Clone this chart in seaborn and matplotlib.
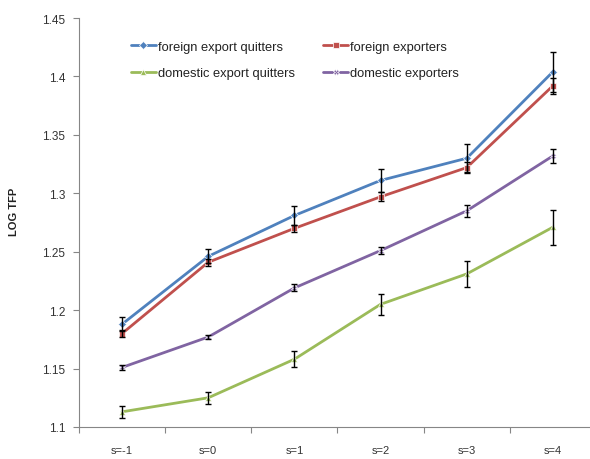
import matplotlib
matplotlib.use("Agg")
import matplotlib.pyplot as plt
from matplotlib.ticker import FuncFormatter, FixedLocator
import numpy as np
import pandas as pd
import seaborn as sns

periods = ["s=-1", "s=0", "s=1", "s=2", "s=3", "s=4"]

foreign_quitters = [1.188, 1.246, 1.281, 1.311, 1.330, 1.404]
foreign_quitters_err = [0.006, 0.006, 0.008, 0.010, 0.012, 0.017]

foreign_exporters = [1.180, 1.241, 1.270, 1.297, 1.322, 1.392]
foreign_exporters_err = [0.003, 0.003, 0.003, 0.004, 0.005, 0.007]

domestic_quitters = [1.113, 1.125, 1.158, 1.205, 1.231, 1.271]
domestic_quitters_err = [0.005, 0.005, 0.007, 0.009, 0.011, 0.015]

domestic_exporters = [1.151, 1.177, 1.219, 1.251, 1.285, 1.332]
domestic_exporters_err = [0.002, 0.002, 0.003, 0.003, 0.005, 0.006]

series = {
    "foreign export quitters": (foreign_quitters, foreign_quitters_err),
    "foreign exporters": (foreign_exporters, foreign_exporters_err),
    "domestic export quitters": (domestic_quitters, domestic_quitters_err),
    "domestic exporters": (domestic_exporters, domestic_exporters_err),
}
colors = {
    "foreign export quitters": "#4F81BD",
    "foreign exporters": "#C0504D",
    "domestic export quitters": "#9BBB59",
    "domestic exporters": "#8064A2",
}
markers = {
    "foreign export quitters": "D",
    "foreign exporters": "s",
    "domestic export quitters": "^",
    "domestic exporters": "X",
}

rows = []
for name, (vals, errs) in series.items():
    for i, (p, v, e) in enumerate(zip(periods, vals, errs)):
        rows.append({"pos": i, "period": p, "group": name, "tfp": v, "err": e})
df = pd.DataFrame(rows)

sns.set_style("white")
plt.rcParams["font.family"] = ["Liberation Sans", "DejaVu Sans"]

fig = plt.figure(figsize=(5.9, 4.6), dpi=100)
ax = fig.add_axes([79 / 590, 1 - 428 / 460, (596 - 79) / 590, (428 - 19) / 460])

sns.lineplot(data=df, x="pos", y="tfp", hue="group", style="group",
             hue_order=list(series), style_order=list(series),
             palette=colors, markers=markers, dashes=False,
             linewidth=2.0, markersize=4.2, markeredgewidth=0.5,
             ax=ax, legend=True)

for name in series:
    sub = df[df["group"] == name]
    ax.errorbar(sub["pos"], sub["tfp"], yerr=sub["err"], fmt="none",
                ecolor="black", elinewidth=1.0, capsize=2.5, capthick=1.0,
                zorder=5)

ax.set_xlim(-0.5, 5.5)
ax.set_ylim(1.1, 1.45)
ax.set_xticks(range(len(periods)))
ax.set_xticklabels(periods)
ax.xaxis.set_minor_locator(FixedLocator(np.arange(-0.5, 5.6, 1.0)))
ax.tick_params(axis="x", which="both", bottom=True)
ax.tick_params(axis="x", which="major", length=0, pad=13, labelsize=8, colors="#333333")
ax.tick_params(axis="x", which="minor", length=4, width=0.8, color="#868686", direction="out")
ax.set_yticks(np.arange(1.1, 1.4501, 0.05))
ax.yaxis.set_major_formatter(FuncFormatter(lambda v, _: f"{v:.2f}".rstrip("0")))
ax.tick_params(axis="y", length=4, width=0.8, color="#868686", direction="out",
               left=True, labelsize=8.5, labelcolor="#333333", pad=6)
ax.set_xlabel("")
ax.set_ylabel("")
for side in ["top", "right"]:
    ax.spines[side].set_visible(False)
for side in ["left", "bottom"]:
    ax.spines[side].set_color("#868686")
    ax.spines[side].set_linewidth(0.8)

fig.text(14 / 590, 1 - 212 / 460, "LOG TFP", rotation=90, fontsize=8,
         fontweight="bold", ha="center", va="center", color="#222222")

handles, labels = ax.get_legend_handles_labels()
order = ["foreign export quitters", "domestic export quitters",
         "foreign exporters", "domestic exporters"]
hmap = dict(zip(labels, handles))
ax.legend([hmap[k] for k in order], order, ncol=2, frameon=False,
          loc="upper left", bbox_to_anchor=(119 / 590, 1 - 30 / 460),
          bbox_transform=fig.transFigure, fontsize=9.3, handlelength=1.95,
          handletextpad=0.15, labelspacing=1.12, columnspacing=2.2,
          labelcolor="#222222")

fig.savefig("out.png", dpi=100)
